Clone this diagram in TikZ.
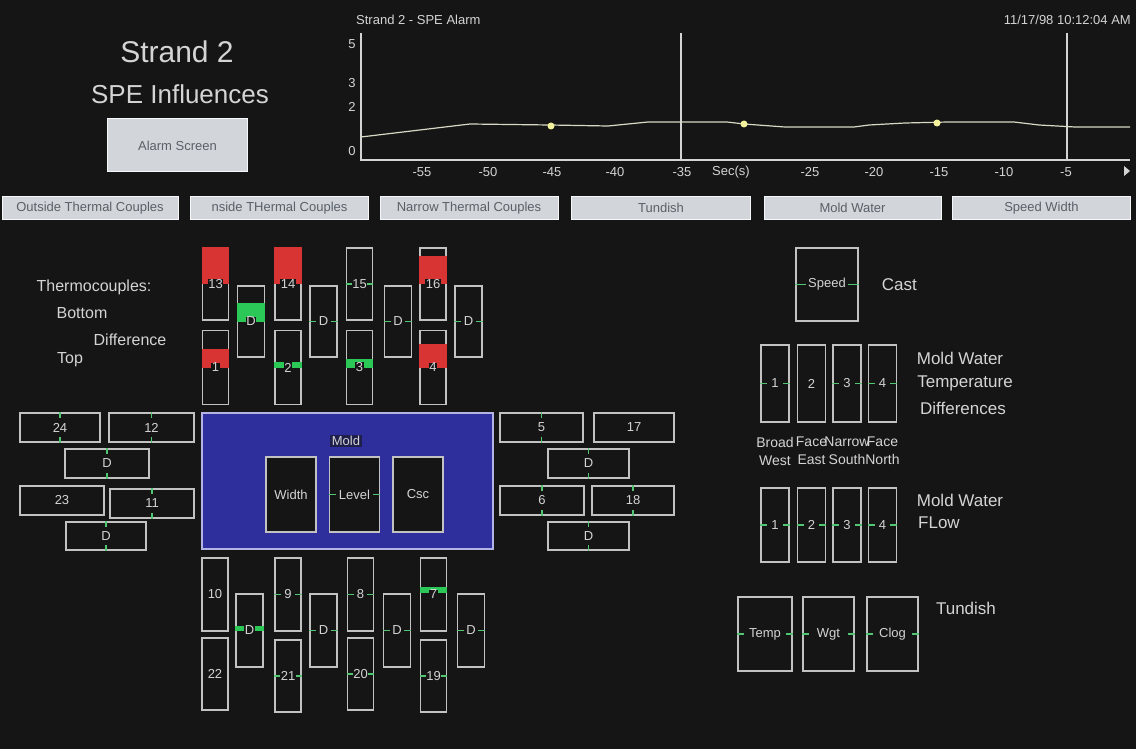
\documentclass[tikz,border=0pt]{standalone}
\usepackage{fontspec}
\setmainfont{Liberation Sans}
\usetikzlibrary{calc,positioning}
\definecolor{bg}{HTML}{151515}
\definecolor{boxgray}{HTML}{C2C2C2}
\definecolor{labgray}{HTML}{D4D4D4}
\definecolor{alarmred}{HTML}{D83434}
\definecolor{okgreen}{HTML}{2CC857}
\definecolor{moldblue}{HTML}{2E2E9C}
\definecolor{moldedge}{HTML}{B4B4E4}
\definecolor{btngray}{HTML}{D2D6DA}
\definecolor{btntext}{HTML}{5A6068}
\definecolor{dotyellow}{HTML}{F2F29A}
\definecolor{trend}{HTML}{D8D8C4}
\newcommand{\midticks}[1]{\draw[tickln] (#1.west) -- ++(7,0) (#1.east) -- ++(-7,0);}
\newcommand{\capticks}[1]{\draw[tickln] (#1.north) -- ++(0,6) (#1.south) -- ++(0,-6);}

\begin{document}
\begin{tikzpicture}[x=1pt,y=-1pt,
    tc/.style={draw=boxgray, line width=1.5pt, minimum width=26, minimum height=72, inner sep=0pt},
    hb/.style={draw=boxgray, line width=1.5pt, minimum width=82, minimum height=29, inner sep=0pt},
    lab/.style={text=labgray, fill=bg, inner sep=0.5pt, font=\fontsize{13}{14}\selectfont},
    tickln/.style={okgreen!75!boxgray, line width=1.1pt},
    btn/.style={fill=btngray, draw=white!80!btngray, line width=1pt, text=btntext, minimum height=22, inner sep=0pt, font=\fontsize{13}{14}\selectfont},
    txt/.style={text=labgray, inner sep=0pt, font=\fontsize{16}{18}\selectfont},
    small/.style={text=labgray, inner sep=0pt, font=\fontsize{13}{14}\selectfont}]
    \useasboundingbox (0,0) rectangle (1136,749);
    \fill[bg] (0,0) rectangle (1136,749);

    % heading
    \node[txt, font=\fontsize{30}{32}\selectfont] (title) at (177,52) {Strand 2};
    \node[txt, font=\fontsize{26}{28}\selectfont] (subtitle) at (180,94) {SPE Influences};
    \node[btn, minimum width=140, minimum height=53] (alarm) at (177.5,145.5) {Alarm Screen};

    % trend chart
    \coordinate (org) at (361,160);
    \node[small, anchor=west] (charttitle) at (356,20) {Strand 2 - SPE Alarm};
    \node[small, anchor=east] (stamp) at (1131,20) {11/17/98 10:12:04 AM};
    \draw[labgray, line width=1.3pt] (361,33) -- (org) -- (1130,160);
    \draw[labgray, line width=1.3pt] (681,33) -- (681,160);
    \draw[labgray, line width=1.3pt] (1067,33) -- (1067,160);
    \node[small] (y5) at (352,44) {5};
    \node[small] (y3) at (352,83) {3};
    \node[small] (y2) at (352,107) {2};
    \node[small] (y0) at (352,151) {0};
    \node[small] (x55) at (422,172) {-55};
    \node[small] (x50) at (488,172) {-50};
    \node[small] (x45) at (552,172) {-45};
    \node[small] (x40) at (615,172) {-40};
    \node[small] (x35) at (682,172) {-35};
    \node[small] (xunit) at (731,172) {Sec(s)};
    \node[small] (x25) at (810,172) {-25};
    \node[small] (x20) at (874,172) {-20};
    \node[small] (x15) at (939,172) {-15};
    \node[small] (x10) at (1004,172) {-10};
    \node[small] (x5) at (1066,172) {-5};
    \fill[labgray] (1124,166) -- (1130,171) -- (1124,176) -- cycle;
    \draw[trend, line width=1.2pt] (361,137) -- (470,124) -- (550,125) -- (608,126) -- (648,122) -- (727,122)
        -- (744,124) -- (785,127) -- (854,127) -- (869,125) -- (905,123) -- (948,122) -- (1014,122)
        -- (1039,125) -- (1075,127) -- (1130,127);
    \fill[dotyellow] (551,126) circle (3.5);
    \fill[dotyellow] (744,124) circle (3.5);
    \fill[dotyellow] (937,123) circle (3.5);

    % tabs
    \node[btn, minimum width=176] (tab1) at (90,208) {Outside Thermal Couples};
    \node[btn, minimum width=178] (tab2) at (279.5,208) {nside THermal Couples};
    \node[btn, minimum width=178] (tab3) at (469,208) {Narrow Thermal Couples};
    \node[btn, minimum width=179] (tab4) at (661,208) {Tundish};
    \node[btn, minimum width=177] (tab5) at (852.5,208) {Mold Water};
    \node[btn, minimum width=178] (tab6) at (1041.5,208) {Speed Width};

    % thermocouple legend
    \node[txt] (legtc) at (94,287) {Thermocouples:};
    \node[txt] (legbot) at (82,313) {Bottom};
    \node[txt] (legdiff) at (130,340) {Difference};
    \node[txt] (legtop) at (70,360) {Top};

    % top thermocouples
    \node[tc] (tt13) at (215.5,284) {};
    \node[tc] (tt14) at (288,284) {};
    \node[tc] (tt15) at (359.5,284) {};
    \node[tc] (tt16) at (433,284) {};
    \node[tc, minimum height=74] (tb1) at (215.5,367.5) {};
    \node[tc, minimum height=74] (tb2) at (288,367.5) {};
    \node[tc, minimum height=74] (tb3) at (359.5,367.5) {};
    \node[tc, minimum height=74] (tb4) at (433,367.5) {};
    \node[tc, minimum width=27, minimum height=71] (td1) at (251,321.5) {};
    \node[tc, minimum width=27, minimum height=71] (td2) at (323.5,321.5) {};
    \node[tc, minimum width=27, minimum height=71] (td3) at (398,321.5) {};
    \node[tc, minimum width=27, minimum height=71] (td4) at (468.5,321.5) {};
    \fill[alarmred] (tt13.north west) rectangle (tt13.east);
    \fill[alarmred] (tt14.north west) rectangle (tt14.east);
    \fill[alarmred] ($(tt16.north west)+(0,9)$) rectangle (tt16.east);
    \fill[alarmred] ($(tb1.west)+(0,-19)$) rectangle (tb1.east);
    \fill[alarmred] ($(tb4.west)+(0,-24)$) rectangle (tb4.east);
    \fill[okgreen] ($(td1.west)+(0,-19)$) rectangle (td1.east);
    \fill[okgreen] ($(tb2.west)+(0,-6)$) rectangle (tb2.east);
    \fill[okgreen] ($(tb3.west)+(0,-9)$) rectangle (tb3.east);
    \midticks{tt15} \midticks{td2} \midticks{td3} \midticks{td4}
    \node[lab] at (tt13) {13};
    \node[lab] at (tt14) {14};
    \node[lab] at (tt15) {15};
    \node[lab] at (tt16) {16};
    \node[lab] at (tb1) {1};
    \node[lab] at (tb2) {2};
    \node[lab] at (tb3) {3};
    \node[lab] at (tb4) {4};
    \node[lab] at (td1) {D};
    \node[lab] at (td2) {D};
    \node[lab] at (td3) {D};
    \node[lab] at (td4) {D};

    % mold
    \node[draw=moldedge, fill=moldblue, line width=1.5pt, minimum width=291, minimum height=136, inner sep=0pt] (mold) at (347.5,481) {};
    \node[small, fill=bg!60!moldblue, inner sep=1.5pt] (moldlab) at (346,441) {Mold};
    \node[tc, fill=bg, minimum width=50, minimum height=75] (width) at (291,494.5) {};
    \node[tc, fill=bg, minimum width=50, minimum height=75] (level) at (354.5,494.5) {};
    \node[tc, fill=bg, minimum width=50, minimum height=75] (csc) at (418,494.5) {};
    \midticks{level}
    \node[lab] at (width) {Width};
    \node[lab] at (level) {Level};
    \node[lab] at (csc) {Csc};

    % side thermocouples
    \node[hb, minimum width=80] (h24) at (60,427.5) {};
    \node[hb, minimum width=85] (h12) at (151.5,427.5) {};
    \node[hb, minimum width=84] (hd1) at (107,463.5) {};
    \node[hb, minimum width=84] (h23) at (62,500.5) {};
    \node[hb, minimum width=84] (h11) at (152,503.5) {};
    \node[hb, minimum width=80, minimum height=28] (hd2) at (106,536) {};
    \node[hb, minimum width=83] (h5) at (541.5,427.5) {};
    \node[hb, minimum width=80] (h17) at (634,427.5) {};
    \node[hb, minimum width=81] (hd3) at (588.5,463.5) {};
    \node[hb, minimum width=84] (h6) at (542,500.5) {};
    \node[hb, minimum width=82] (h18) at (633,500.5) {};
    \node[hb, minimum width=81, minimum height=28] (hd4) at (588.5,536) {};
    \capticks{h24} \capticks{h12} \capticks{hd1} \capticks{h11} \capticks{hd2}
    \capticks{h5} \capticks{hd3} \capticks{h6} \capticks{h18} \capticks{hd4}
    \node[lab] at (h24) {24};
    \node[lab] at (h12) {12};
    \node[lab] at (hd1) {D};
    \node[lab] at (h23) {23};
    \node[lab] at (h11) {11};
    \node[lab] at (hd2) {D};
    \node[lab] at (h5) {5};
    \node[lab] at (h17) {17};
    \node[lab] at (hd3) {D};
    \node[lab] at (h6) {6};
    \node[lab] at (h18) {18};
    \node[lab] at (hd4) {D};

    % bottom thermocouples
    \node[tc, minimum height=73] (bt10) at (215,594.5) {};
    \node[tc, minimum height=73] (bt9) at (288,594.5) {};
    \node[tc, minimum height=73] (bt8) at (360.5,594.5) {};
    \node[tc, minimum height=73] (bt7) at (433.5,594.5) {};
    \node[tc] (bb22) at (215,674) {};
    \node[tc] (bb21) at (288,676) {};
    \node[tc] (bb20) at (360.5,674) {};
    \node[tc] (bb19) at (433.5,676) {};
    \node[tc, minimum width=27, minimum height=73] (bd1) at (249.5,630.5) {};
    \node[tc, minimum width=27, minimum height=73] (bd2) at (323.5,630.5) {};
    \node[tc, minimum width=27, minimum height=73] (bd3) at (397,630.5) {};
    \node[tc, minimum width=27, minimum height=73] (bd4) at (471,630.5) {};
    \fill[okgreen] ($(bd1.west)+(0,-5)$) rectangle (bd1.east);
    \fill[okgreen] ($(bt7.west)+(0,-8)$) rectangle ($(bt7.east)+(0,-2)$);
    \midticks{bt9} \midticks{bt8} \midticks{bb21} \midticks{bb20} \midticks{bb19}
    \midticks{bd2} \midticks{bd3} \midticks{bd4}
    \node[lab] at (bt10) {10};
    \node[lab] at (bt9) {9};
    \node[lab] at (bt8) {8};
    \node[lab] at (bt7) {7};
    \node[lab] at (bb22) {22};
    \node[lab] at (bb21) {21};
    \node[lab] at (bb20) {20};
    \node[lab] at (bb19) {19};
    \node[lab] at (bd1) {D};
    \node[lab] at (bd2) {D};
    \node[lab] at (bd3) {D};
    \node[lab] at (bd4) {D};

    % cast speed
    \node[tc, minimum width=62, minimum height=73] (speed) at (827,284.5) {};
    \draw[tickln] (speed.west) -- ++(11,0) (speed.east) -- ++(-11,0);
    \node[lab] at (speed) {Speed};
    \node[txt, font=\fontsize{17}{19}\selectfont, anchor=west, right=23pt of speed.east] (cast) {Cast};

    % mold water temperature differences
    \node[tc, minimum width=28, minimum height=77] (mt1) at (775,383.5) {};
    \node[tc, minimum width=28, minimum height=77] (mt2) at (811.5,383.5) {};
    \node[tc, minimum width=28, minimum height=77] (mt3) at (847,383.5) {};
    \node[tc, minimum width=28, minimum height=77] (mt4) at (882.5,383.5) {};
    \midticks{mt1} \midticks{mt3} \midticks{mt4}
    \node[lab] at (mt1) {1};
    \node[lab] at (mt2) {2};
    \node[lab] at (mt3) {3};
    \node[lab] at (mt4) {4};
    \node[txt, align=center, font=\fontsize{14}{18}\selectfont, below=14pt of mt1] (face1) {Broad\\West};
    \node[txt, align=center, font=\fontsize{14}{18}\selectfont, below=14pt of mt2] (face2) {Face\\East};
    \node[txt, align=center, font=\fontsize{14}{18}\selectfont, below=14pt of mt3] (face3) {Narrow\\South};
    \node[txt, align=center, font=\fontsize{14}{18}\selectfont, below=14pt of mt4] (face4) {Face\\North};
    \node[txt, font=\fontsize{17}{19}\selectfont] (mwt1) at (960,358) {Mold Water};
    \node[txt, font=\fontsize{17}{19}\selectfont] (mwt2) at (965,383) {Temperature};
    \node[txt, font=\fontsize{17}{19}\selectfont] (mwt3) at (963,408) {Differences};

    % mold water flow
    \node[tc, minimum width=28, minimum height=74] (mf1) at (775,525) {};
    \node[tc, minimum width=28, minimum height=74] (mf2) at (811.5,525) {};
    \node[tc, minimum width=28, minimum height=74] (mf3) at (847,525) {};
    \node[tc, minimum width=28, minimum height=74] (mf4) at (882.5,525) {};
    \midticks{mf1} \midticks{mf2} \midticks{mf3} \midticks{mf4}
    \node[lab] at (mf1) {1};
    \node[lab] at (mf2) {2};
    \node[lab] at (mf3) {3};
    \node[lab] at (mf4) {4};
    \node[txt, font=\fontsize{17}{19}\selectfont] (mwf1) at (960,500) {Mold Water};
    \node[txt, font=\fontsize{17}{19}\selectfont, anchor=west] (mwf2) at (918,523) {FLow};

    % tundish
    \node[tc, minimum width=54, minimum height=74] (temp) at (765,634) {};
    \node[tc, minimum width=51, minimum height=74] (wgt) at (828.5,634) {};
    \node[tc, minimum width=51, minimum height=74] (clog) at (892.5,634) {};
    \midticks{temp} \midticks{wgt} \midticks{clog}
    \node[lab] at (temp) {Temp};
    \node[lab] at (wgt) {Wgt};
    \node[lab] at (clog) {Clog};
    \node[txt, font=\fontsize{17}{19}\selectfont] (tund) at (966,608) {Tundish};
\end{tikzpicture}
\end{document}
